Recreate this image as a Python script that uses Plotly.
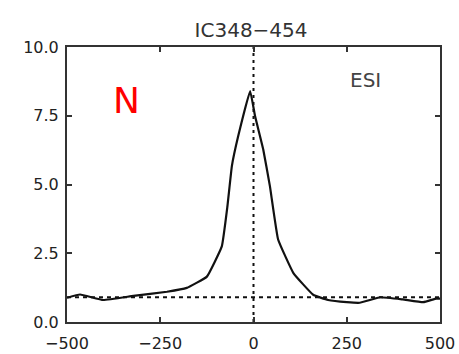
import plotly.graph_objects as go

velocity = [-500, -465, -403, -322, -232, -179, -125, -85, -70, -58, -41, -9, 4, 26, 44, 66, 107, 160, 200, 250, 285, 340, 400, 455, 490, 500]
flux = [0.88, 1.0, 0.8, 0.95, 1.1, 1.24, 1.65, 2.75, 4.2, 5.67, 6.76, 8.4, 7.5, 6.28, 4.94, 3.0, 1.78, 0.99, 0.8, 0.72, 0.7, 0.9, 0.82, 0.72, 0.85, 0.85]
baseline = 0.9
title_text = "IC348−454"
x_ticks = [-500, -250, 0, 250, 500]
x_ticklabels = ["−500", "−250", "0", "250", "500"]
y_ticks = [0, 2.5, 5, 7.5, 10]
y_ticklabels = ["0.0", "2.5", "5.0", "7.5", "10.0"]

fig = go.Figure()
fig.add_trace(go.Scatter(x=[-500, 500], y=[baseline, baseline], mode="lines",
                         line=dict(color="#111", width=2, dash="4px,4px"), hoverinfo="skip"))
fig.add_trace(go.Scatter(x=[0, 0], y=[0, 10], mode="lines",
                         line=dict(color="#111", width=2, dash="3px,4px"), hoverinfo="skip"))
fig.add_trace(go.Scatter(x=velocity, y=flux, mode="lines", line_shape="spline",
                         line=dict(color="#111", width=2.2, smoothing=0.3)))

axis_common = dict(showline=True, linecolor="#333", linewidth=2, mirror="ticks",
                   ticks="inside", ticklen=5, tickwidth=1.5, tickcolor="#333",
                   showgrid=False, zeroline=False, automargin=False,
                   tickfont=dict(family="DejaVu Sans", size=16, color="#222"))
fig.update_xaxes(range=[-500, 500], tickvals=x_ticks, ticktext=x_ticklabels,
                 ticklabelstandoff=6, **axis_common)
fig.update_yaxes(range=[0, 10], tickvals=y_ticks, ticktext=y_ticklabels,
                 ticklabelstandoff=3, **axis_common)

fig.add_annotation(x=-340, y=8.05, text="N", showarrow=False,
                   font=dict(family="DejaVu Sans", size=36, color="#ff0000"))
fig.add_annotation(x=300, y=8.8, text="ESI", showarrow=False,
                   font=dict(family="DejaVu Sans", size=20, color="#444"))

fig.update_layout(
    width=459, height=354,
    margin=dict(l=67, r=19, t=47, b=32),
    paper_bgcolor="white", plot_bgcolor="white",
    showlegend=False,
    title=dict(text=title_text, x=0.547, xanchor="center", y=0.915, yanchor="middle",
               font=dict(family="DejaVu Sans", size=20, color="#333")),
)
fig.write_html("out.html", config={"displayModeBar": False},
               post_script="document.body.style.margin='0px';document.body.style.overflow='hidden';")
